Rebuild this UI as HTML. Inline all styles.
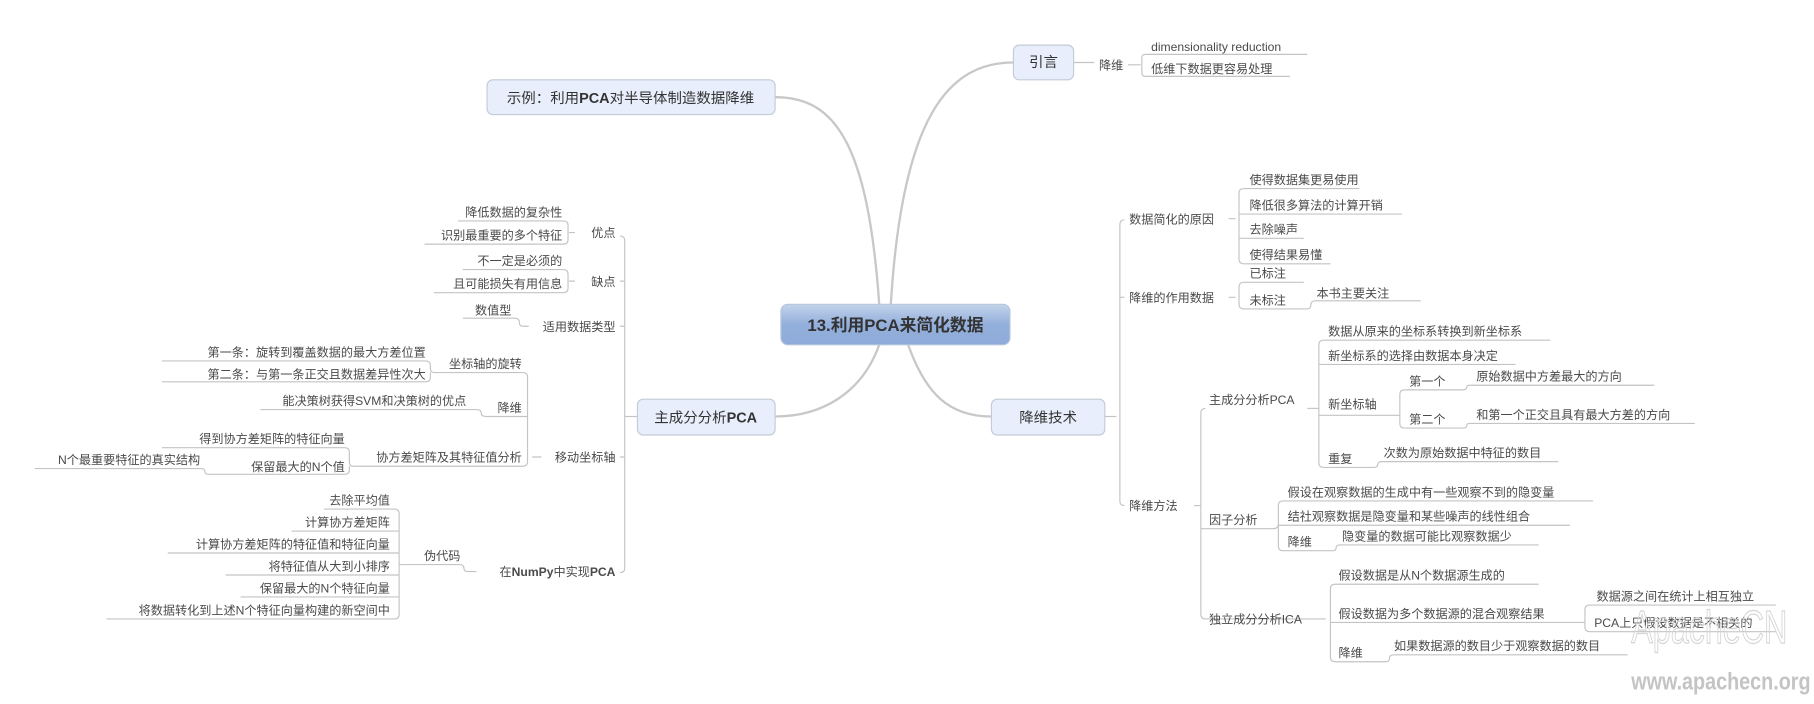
<!DOCTYPE html>
<html><head><meta charset="utf-8"><style>
html,body{margin:0;padding:0;background:#fff;}
svg{display:block;}
text{font-family:"Liberation Sans","Noto Sans CJK SC",sans-serif;fill:#4a4a4a;font-size:10.5px;}
.b{font-size:12.5px;fill:#333;}
</style></head><body>
<svg width="1814" height="704" viewBox="0 0 1568 608.5" xmlns="http://www.w3.org/2000/svg">
<defs><linearGradient id="g" x1="0" y1="0" x2="0" y2="1"><stop offset="0" stop-color="#c3d3ea"/><stop offset="0.5" stop-color="#93afdc"/><stop offset="1" stop-color="#8eabd9"/></linearGradient></defs>
<g fill="none" stroke="#c8c8c8" stroke-width="2">
<path d="M770 263 C780 100 820 54 876 54"/>
<path d="M760 263 C750 120 720 84 670 84"/>
<path d="M785 298 C800 340 820 360 857 360"/>
<path d="M760 298 C745 340 710 360 670 360"/>
</g>
<g fill="none" stroke="#c4c4c4" stroke-width="1">
<path d="M928 54 H946"/>
<path d="M975 56 H986 M990 47 Q987 47 987 50 V63 Q987 66 990 66"/>
<path d="M990 47 H1130 M990 66 H1115"/>
<path d="M955 360 H965"/>
<path d="M972 190 Q968 190 968 194 V433 Q968 437 972 437"/>
<path d="M968 257 H972"/>
<path d="M1062 189 H1068 M1075 163 Q1071 163 1071 167 V224 Q1071 228 1075 228 M1071 185 H1075 M1071 206 H1075"/>
<path d="M1075 163 H1175 M1075 185 H1212 M1075 206 H1127 M1075 228 H1150"/>
<path d="M1062 257 H1068 M1075 244 Q1071 244 1071 248 V263 Q1071 267 1075 267 H1130 Q1133 267 1133 264 Q1133 260 1137 260 H1228 M1075 244 H1127"/>
<path d="M1032 437 H1038"/>
<path d="M1042 353 Q1038 353 1038 357 V531 Q1038 535 1042 535 M1038 457 H1042"/>
<path d="M1130 353 H1140"/>
<path d="M1144 294 Q1140 294 1140 298 V400 Q1140 404 1144 404 M1140 315 H1144 M1140 359 H1144"/>
<path d="M1144 294 H1340 M1144 315 H1310 M1144 359 H1210"/>
<path d="M1144 404 H1188 Q1191 404 1191 401 Q1191 399 1195 399 H1347"/>
<path d="M1214 337 Q1210 337 1210 341 V366 Q1210 370 1214 370"/>
<path d="M1214 337 H1265 Q1268 337 1268 334 Q1268 333 1271 333 H1430"/>
<path d="M1214 370 H1265 Q1268 370 1268 367 Q1268 366 1271 366 H1465"/>
<path d="M1042 457 H1100 Q1105 457 1105 453 V437 Q1105 433 1109 433 H1377 M1105 454 H1357 M1105 453 V472 Q1105 476 1109 476 H1152 Q1155 476 1155 473 Q1155 471 1159 471 H1330"/>
<path d="M1042 535 H1146"/>
<path d="M1154 505 Q1150 505 1150 509 V568 Q1150 572 1154 572 M1150 538 H1154"/>
<path d="M1154 505 H1330 M1154 538 H1365"/>
<path d="M1154 572 H1198 Q1201 572 1201 569 Q1201 566 1205 566 H1407"/>
<path d="M1365 538 H1370 M1374 523 Q1370 523 1370 527 V542 Q1370 546 1374 546 M1374 523 H1535 M1374 546 H1535"/>
<path d="M551 360 H540"/>
<path d="M536 204 Q540 204 540 208 V491 Q540 495 536 495 M540 243 H536 M540 282 H536 M540 395 H536"/>
<path d="M497 201 H492 M487 191 Q491 191 491 195 V207 Q491 211 487 211 M487 191 H396 M487 211 H367"/>
<path d="M497 243 H492 M487 233 Q491 233 491 237 V249 Q491 253 487 253 M487 233 H400 M487 253 H375"/>
<path d="M457 282 H452 Q449 282 449 279 Q449 275 445 275 H400"/>
<path d="M468 395 H460 M452 322 Q456 322 456 326 V399 Q456 403 452 403 M456 360 H452"/>
<path d="M452 322 H375 M452 360 H420 M452 403 H305"/>
<path d="M420 360 Q416 360 416 357 Q416 354 412 354 H225"/>
<path d="M375 322 Q372 322 372 318 V316 Q372 312 368 312 H140 M372 322 V326 Q372 330 368 330 H140"/>
<path d="M305 403 Q302 403 302 399 V391 Q302 387 298 387 H140 M302 403 V406 Q302 410 298 410 H180 Q177 410 177 407 Q177 405 173 405 H30"/>
<path d="M412 494 H404 Q401 494 401 491 Q401 488 397 488 H350"/>
<path d="M350 488 H345 M341 440 Q345 440 345 444 V531 Q345 535 341 535 M345 459 H341 M345 478 H341 M345 497 H341 M345 516 H341"/>
<path d="M341 440 H280 M341 459 H252 M341 478 H145 M341 497 H195 M341 516 H208 M341 535 H92"/>
</g>
<rect x="675" y="263" width="198" height="35" rx="6" fill="url(#g)" stroke="#b8c6dc"/>
<text x="774" y="286" text-anchor="middle" style="font-size:14.5px;font-weight:bold;fill:#333">13.利用PCA来简化数据</text>
<rect x="876" y="39" width="52" height="30" rx="5" fill="#e8eefb" stroke="#c4cbd8"/>
<text class="b" x="902" y="58" text-anchor="middle">引言</text>
<rect x="421" y="69" width="249" height="30" rx="5" fill="#e8eefb" stroke="#c4cbd8"/>
<text class="b" x="545" y="89" text-anchor="middle">示例：利用<tspan font-weight="bold">PCA</tspan>对半导体制造数据降维</text>
<rect x="857" y="345" width="98" height="31" rx="5" fill="#e8eefb" stroke="#c4cbd8"/>
<text class="b" x="906" y="365" text-anchor="middle">降维技术</text>
<rect x="551" y="345" width="119" height="31" rx="5" fill="#e8eefb" stroke="#c4cbd8"/>
<text class="b" x="610" y="365" text-anchor="middle">主成分分析<tspan font-weight="bold">PCA</tspan></text>
<text x="950" y="60">降维</text>
<text x="995" y="44">dimensionality reduction</text>
<text x="995" y="63">低维下数据更容易处理</text>
<text x="976" y="193">数据简化的原因</text>
<text x="1080" y="159">使得数据集更易使用</text>
<text x="1080" y="181">降低很多算法的计算开销</text>
<text x="1080" y="202">去除噪声</text>
<text x="1080" y="224">使得结果易懂</text>
<text x="976" y="261">降维的作用数据</text>
<text x="1080" y="240">已标注</text>
<text x="1080" y="263">未标注</text>
<text x="1138" y="257">本书主要关注</text>
<text x="976" y="441">降维方法</text>
<text x="1045" y="349">主成分分析PCA</text>
<text x="1148" y="290">数据从原来的坐标系转换到新坐标系</text>
<text x="1148" y="311">新坐标系的选择由数据本身决定</text>
<text x="1148" y="353">新坐标轴</text>
<text x="1218" y="333">第一个</text>
<text x="1218" y="366">第二个</text>
<text x="1276" y="329">原始数据中方差最大的方向</text>
<text x="1276" y="362">和第一个正交且具有最大方差的方向</text>
<text x="1148" y="400">重复</text>
<text x="1196" y="395">次数为原始数据中特征的数目</text>
<text x="1045" y="453">因子分析</text>
<text x="1113" y="429">假设在观察数据的生成中有一些观察不到的隐变量</text>
<text x="1113" y="450">结社观察数据是隐变量和某些噪声的线性组合</text>
<text x="1113" y="472">降维</text>
<text x="1160" y="467">隐变量的数据可能比观察数据少</text>
<text x="1045" y="539">独立成分分析ICA</text>
<text x="1157" y="501">假设数据是从N个数据源生成的</text>
<text x="1157" y="534">假设数据为多个数据源的混合观察结果</text>
<text x="1157" y="568">降维</text>
<text x="1205" y="562">如果数据源的数目少于观察数据的数目</text>
<text x="1380" y="519">数据源之间在统计上相互独立</text>
<text x="1378" y="542">PCA上只假设数据是不相关的</text>
<g text-anchor="end">
<text x="532" y="205">优点</text>
<text x="486" y="187">降低数据的复杂性</text>
<text x="486" y="207">识别最重要的多个特征</text>
<text x="532" y="247">缺点</text>
<text x="486" y="229">不一定是必须的</text>
<text x="486" y="249">且可能损失有用信息</text>
<text x="532" y="286">适用数据类型</text>
<text x="442" y="272">数值型</text>
<text x="532" y="399">移动坐标轴</text>
<text x="451" y="318">坐标轴的旋转</text>
<text x="368" y="308">第一条：旋转到覆盖数据的最大方差位置</text>
<text x="368" y="327">第二条：与第一条正交且数据差异性次大</text>
<text x="451" y="356">降维</text>
<text x="403" y="350">能决策树获得SVM和决策树的优点</text>
<text x="451" y="399">协方差矩阵及其特征值分析</text>
<text x="298" y="383">得到协方差矩阵的特征向量</text>
<text x="298" y="407">保留最大的N个值</text>
<text x="173" y="401">N个最重要特征的真实结构</text>
<text x="532" y="498">在<tspan font-weight="bold">NumPy</tspan>中实现<tspan font-weight="bold">PCA</tspan></text>
<text x="398" y="484">伪代码</text>
<text x="337" y="436">去除平均值</text>
<text x="337" y="455">计算协方差矩阵</text>
<text x="337" y="474">计算协方差矩阵的特征值和特征向量</text>
<text x="337" y="493">将特征值从大到小排序</text>
<text x="337" y="512">保留最大的N个特征向量</text>
<text x="337" y="531">将数据转化到上述N个特征向量构建的新空间中</text>
</g>
<text x="1410" y="556" textLength="135" lengthAdjust="spacingAndGlyphs" style="font-size:40px;fill:none;stroke:#d4d4d4;stroke-width:1">ApacheCN</text>
<text x="1410" y="596" textLength="155" lengthAdjust="spacingAndGlyphs" style="font-size:21px;fill:#c4c4c4;font-weight:bold">www.apachecn.org</text>
</svg>
</body></html>
